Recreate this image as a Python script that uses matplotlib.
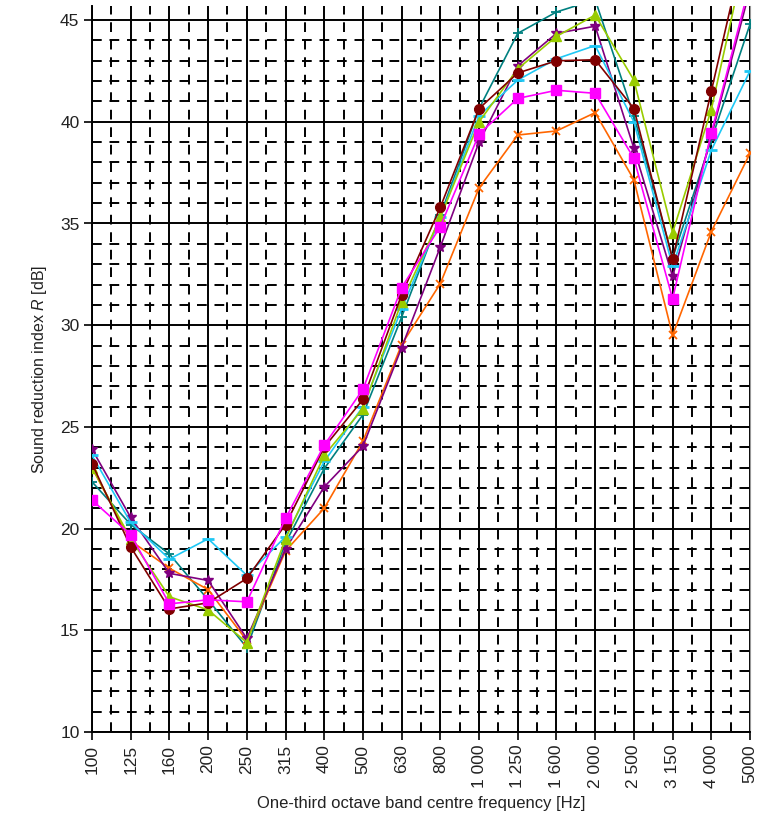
import numpy as np
import matplotlib
matplotlib.use('Agg')
import matplotlib.pyplot as plt

plt.rcParams['font.family'] = ['Liberation Sans', 'DejaVu Sans']
plt.rcParams['mathtext.fontset'] = 'custom'
plt.rcParams['mathtext.it'] = 'Liberation Sans:italic'

# one-third octave bands
bands = ["100", "125", "160", "200", "250", "315", "400", "500", "630", "800",
         "1 000", "1 250", "1 600", "2 000", "2 500", "3 150", "4 000", "5000"]

# sound reduction index R [dB] per series
r_magenta = [21.4, 19.7, 16.3, 16.5, 16.4, 20.5, 24.1, 26.85, 31.85, 34.85,
             39.4, 41.15, 41.55, 41.4, 38.2, 31.3, 39.45, 46.8]
r_darkred = [23.2, 19.1, 16.05, 16.35, 17.55, 20.2, 24.0, 26.35, 31.5, 35.8,
             40.65, 42.4, 43.0, 43.05, 40.65, 33.25, 41.5, 49.8]
r_green = [23.0, 19.5, 16.65, 16.0, 14.4, 19.5, 23.6, 25.9, 31.15, 35.3,
           40.0, 42.6, 44.2, 45.25, 42.05, 34.55, 40.6, 49.2]
r_cyan = [23.6, 20.3, 18.5, 19.5, 17.7, 19.6, 23.3, 26.0, 30.8, 35.3,
          40.3, 42.05, 43.1, 43.75, 40.0, 32.9, 38.6, 42.5]
r_purple = [23.9, 20.55, 17.8, 17.45, 14.6, 19.0, 22.05, 24.05, 28.9, 33.85,
            39.0, 42.75, 44.35, 44.7, 38.7, 32.4, 39.3, 46.5]
r_orange = [23.0, 19.4, 18.05, 17.0, 14.5, 18.9, 21.0, 24.3, 29.05, 32.05,
            36.75, 39.35, 39.55, 40.45, 37.15, 29.5, 34.6, 38.45]
r_teal = [22.3, 20.2, 18.75, 16.5, 14.15, 19.3, 22.95, 25.6, 30.4, 35.4,
          40.65, 44.35, 45.4, 46.0, 40.3, 33.3, 39.1, 44.8]

series = [
    (r_teal,    "#008080", "+", 7, 1.3),
    (r_orange,  "#FF6600", "x", 6, 1.3),
    (r_purple,  "#800080", "*", 7, 0),
    (r_cyan,    "#1EC8F5", "_", 8, 2.0),
    (r_green,   "#99CC00", "^", 7, 0),
    (r_darkred, "#800000", "o", 7, 0),
    (r_magenta, "#FF00FF", "s", 7, 0),
]

fig = plt.figure(figsize=(7.62, 8.22), dpi=100)
ax = fig.add_axes([92 / 762, 1 - 732 / 822, 658 / 762, 726 / 822])

x = np.arange(len(bands))
ax.set_xlim(0, len(bands) - 1)
ax.set_ylim(10, 10 + 726 / 20.34)

# grid: solid majors, dashed minors
for xi in x:
    ax.axvline(xi, color="black", lw=1.4, zorder=1)
for xi in x[:-1] + 0.5:
    ax.axvline(xi, color="black", lw=1.4, ls=(0, (5, 4)), zorder=1)
for yv in range(10, 46):
    if yv % 5 == 0:
        ax.axhline(yv, color="black", lw=1.4, zorder=1)
    else:
        ax.axhline(yv, color="black", lw=1.4, ls=(0, (5, 4)), zorder=1)

for vals, col, mk, ms, mew in series:
    ax.plot(x, vals, color=col, lw=1.2, marker=mk, markersize=ms,
            markeredgewidth=mew if mew else 1.0, markerfacecolor=col,
            markeredgecolor=col, zorder=3, clip_on=True)

ax.set_xticks(x)
ax.set_xticklabels(bands, rotation=90, fontsize=12.5, color="#222222")
ax.set_yticks(range(10, 46, 5))
ax.set_yticklabels([str(v) for v in range(10, 46, 5)], fontsize=12.5, color="#222222")
ax.tick_params(axis="both", direction="out", length=6, width=1.2, color="black", pad=3)

ax.spines["top"].set_visible(False)
ax.spines["right"].set_color("#999999")
ax.spines["left"].set_linewidth(1.4)
ax.spines["bottom"].set_linewidth(1.4)

ax.set_ylabel("Sound reduction index $R$ [dB]", fontsize=11.5, color="#222222", labelpad=8)
ax.set_xlabel("One-third octave band centre frequency [Hz]", fontsize=12, color="#222222", labelpad=6)

fig.savefig("out.png", dpi=100)
